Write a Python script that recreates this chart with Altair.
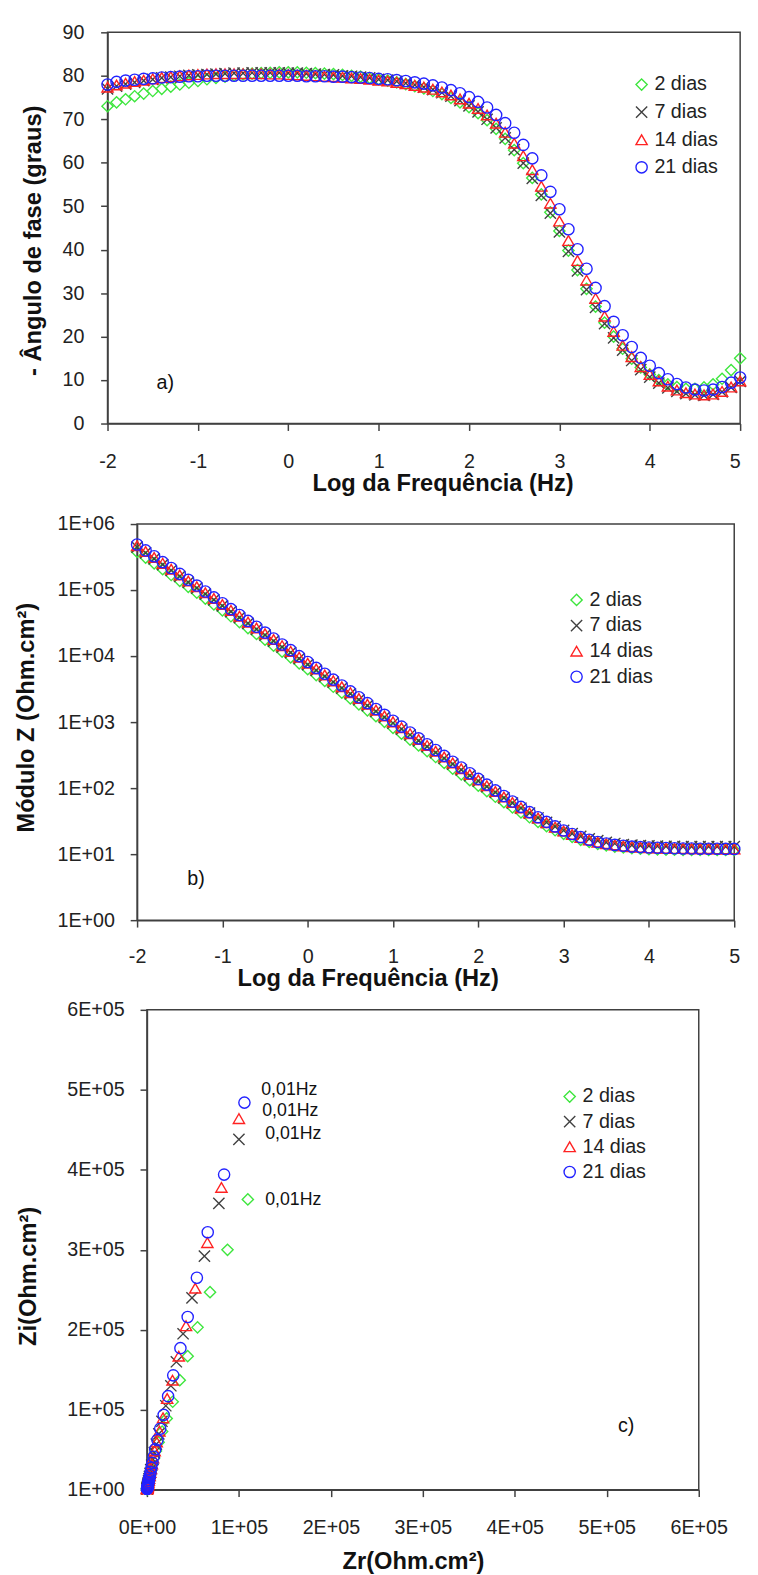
import altair as alt
import pandas as pd

FONT = "Liberation Sans"
DC = "#404040"

series = ["2 dias", "7 dias", "14 dias", "21 dias"]
colors = ["#3ee63e", "#404040", "#ff2222", "#2222ff"]
shapes = ["diamond", "M-1,-1L1,1M-1,1L1,-1", "triangle-up", "circle"]

log_freq = [
    -2.0, -1.9, -1.8, -1.7, -1.6, -1.5, -1.4, -1.3, -1.2, -1.1,
    -1.0, -0.9, -0.8, -0.7, -0.6, -0.5, -0.4, -0.3, -0.2, -0.1,
    0.0, 0.1, 0.2, 0.3, 0.4, 0.5, 0.6, 0.7, 0.8, 0.9,
    1.0, 1.1, 1.2, 1.3, 1.4, 1.5, 1.6, 1.7, 1.8, 1.9,
    2.0, 2.1, 2.2, 2.3, 2.4, 2.5, 2.6, 2.7, 2.8, 2.9,
    3.0, 3.1, 3.2, 3.3, 3.4, 3.5, 3.6, 3.7, 3.8, 3.9,
    4.0, 4.1, 4.2, 4.3, 4.4, 4.5, 4.6, 4.7, 4.8, 4.9, 5.0,
]

# ---- a) phase angle (degrees) ----
phase_2 = [
    73.0, 73.9, 74.6, 75.3, 75.9, 76.5, 77.0, 77.5, 78.0, 78.4,
    78.8, 79.2, 79.5, 79.8, 80.1, 80.3, 80.5, 80.6, 80.7, 80.8,
    80.8, 80.8, 80.7, 80.6, 80.5, 80.4, 80.2, 80.0, 79.8, 79.5,
    79.2, 78.9, 78.5, 78.1, 77.6, 77.1, 76.5, 75.8, 74.9, 73.9,
    72.8, 71.4, 69.8, 67.8, 65.5, 62.9, 59.9, 56.5, 52.7, 48.6,
    44.3, 39.8, 35.3, 31.0, 26.9, 23.2, 20.0, 17.2, 14.9, 12.9,
    11.3, 10.0, 9.0, 8.4, 8.0, 8.0, 8.3, 9.0, 10.3, 12.3, 15.0,
]
phase_7 = [
    77.0, 77.6, 78.1, 78.5, 78.9, 79.2, 79.5, 79.7, 79.9, 80.1,
    80.2, 80.3, 80.4, 80.5, 80.6, 80.6, 80.7, 80.7, 80.7, 80.7,
    80.6, 80.6, 80.5, 80.4, 80.3, 80.2, 80.0, 79.9, 79.7, 79.5,
    79.2, 79.0, 78.7, 78.3, 77.9, 77.4, 76.8, 76.1, 75.3, 74.3,
    73.1, 71.7, 70.0, 68.0, 65.7, 63.0, 59.9, 56.4, 52.5, 48.4,
    44.1, 39.6, 35.1, 30.8, 26.7, 23.0, 19.7, 16.9, 14.5, 12.4,
    10.7, 9.3, 8.2, 7.4, 6.9, 6.6, 6.5, 6.7, 7.3, 8.3, 9.7,
]
phase_14 = [
    77.4, 77.9, 78.3, 78.7, 79.0, 79.3, 79.6, 79.8, 80.0, 80.2,
    80.3, 80.4, 80.5, 80.5, 80.5, 80.5, 80.5, 80.5, 80.4, 80.4,
    80.3, 80.2, 80.1, 80.0, 79.9, 79.8, 79.7, 79.5, 79.4, 79.2,
    79.0, 78.8, 78.5, 78.2, 77.8, 77.4, 76.9, 76.3, 75.6, 74.7,
    73.7, 72.5, 71.0, 69.1, 67.0, 64.5, 61.6, 58.4, 54.6, 50.7,
    46.6, 42.1, 37.5, 33.0, 28.8, 24.7, 21.2, 18.0, 15.4, 13.1,
    11.3, 9.8, 8.6, 7.7, 7.1, 6.8, 6.6, 6.8, 7.4, 8.4, 9.8,
]
phase_21 = [
    78.0, 78.6, 78.9, 79.1, 79.3, 79.4, 79.6, 79.7, 79.8, 79.9,
    79.9, 80.0, 80.0, 80.0, 80.0, 80.0, 80.0, 80.0, 80.0, 80.0,
    80.0, 80.0, 79.9, 79.9, 79.9, 79.8, 79.8, 79.7, 79.6, 79.5,
    79.3, 79.2, 79.0, 78.8, 78.5, 78.2, 77.8, 77.3, 76.7, 76.0,
    75.1, 74.0, 72.7, 71.0, 69.1, 66.9, 64.1, 61.0, 57.1, 53.3,
    49.3, 44.7, 40.1, 35.6, 31.2, 27.0, 23.4, 20.3, 17.6, 15.1,
    13.3, 11.6, 10.2, 9.1, 8.3, 7.8, 7.6, 7.8, 8.4, 9.4, 10.6,
]

# ---- b) impedance modulus (Ohm.cm2) ----
modz_2 = [
    380000, 311000, 254000, 207000, 169000, 138000, 112000, 91300, 74300, 60500,
    49300, 40100, 32700, 26600, 21700, 17700, 14400, 11700, 9590, 7780,
    6340, 5160, 4210, 3430, 2790, 2280, 1860, 1510, 1230, 1010,
    819, 667, 544, 443, 362, 296, 241, 197, 161, 132,
    109, 89.8, 74.0, 61.3, 51.1, 42.8, 36.2, 30.8, 26.5, 23.0,
    20.3, 18.2, 16.5, 15.3, 14.3, 13.6, 13.0, 12.6, 12.3, 12.1,
    11.9, 11.8, 11.7, 11.7, 11.6, 11.6, 11.6, 11.6, 11.6, 11.6, 11.6,
]
modz_7 = [
    448000, 365000, 297000, 242000, 198000, 161000, 131000, 107000, 87000, 70900,
    57700, 47000, 38300, 31200, 25400, 20800, 16900, 13700, 11300, 9130,
    7440, 6060, 4940, 4030, 3280, 2670, 2180, 1780, 1450, 1180,
    961, 783, 638, 520, 424, 346, 283, 231, 189, 155,
    128, 105, 86.3, 71.4, 59.3, 49.6, 41.7, 35.3, 30.2, 26.2,
    23.0, 20.5, 18.6, 17.1, 16.0, 15.1, 14.5, 14.0, 13.7, 13.5,
    13.3, 13.2, 13.1, 13.1, 13.0, 13.0, 13.0, 13.0, 13.0, 13.0, 13.0,
]
modz_14 = [
    470000, 383000, 312000, 254000, 207000, 169000, 137000, 112000, 91300, 74400,
    60600, 49300, 40200, 32700, 26700, 21800, 17800, 14400, 11800, 9580,
    7800, 6360, 5180, 4220, 3440, 2800, 2280, 1860, 1520, 1240,
    1010, 821, 669, 545, 444, 363, 296, 241, 197, 161,
    133, 109, 89.0, 73.3, 60.6, 50.3, 42.0, 35.3, 30.0, 25.7,
    22.4, 19.9, 17.9, 16.4, 15.2, 14.4, 13.8, 13.3, 13.0, 12.7,
    12.5, 12.4, 12.3, 12.2, 12.2, 12.1, 12.1, 12.1, 12.0, 12.0, 12.0,
]
modz_21 = [
    490000, 399000, 325000, 265000, 216000, 176000, 143000, 117000, 95100, 77500,
    63100, 51400, 41900, 34100, 27800, 22700, 18500, 15000, 12300, 9980,
    8130, 6620, 5400, 4400, 3580, 2920, 2380, 1940, 1580, 1290,
    1050, 855, 697, 568, 463, 378, 308, 251, 205, 168,
    138, 113, 92.5, 76.1, 62.8, 52.0, 43.3, 36.3, 30.8, 26.3,
    22.8, 20.2, 18.1, 16.5, 15.3, 14.5, 13.8, 13.4, 13.0, 12.8,
    12.6, 12.5, 12.4, 12.3, 12.2, 12.2, 12.1, 12.1, 12.1, 12.0, 12.0,
]

# ---- c) Nyquist (Ohm.cm2), 0.01 Hz .. 10 Hz ----
zr_2 = [
    109700, 87600, 68600, 55000, 44300, 35700, 28000, 21500, 16500, 12700,
    9800, 7600, 5960, 4710, 3730, 2980, 2380, 1910, 1550, 1250,
    1020, 830, 680, 560, 460, 380, 320, 260, 220, 190, 160,
]
zi_2 = [
    363000, 300000, 247000, 203000, 167000, 137000, 110000, 89100, 72700, 59300,
    48400, 39400, 32200, 26200, 21400, 17400, 14200, 11500, 9460, 7680,
    6260, 5090, 4150, 3380, 2750, 2250, 1830, 1490, 1210, 990, 805,
]
zr_7 = [
    100000, 78200, 62500, 49000, 39300, 32000, 26000, 20500, 16300, 12900,
    10200, 8100, 6500, 5200, 4150, 3400, 2730, 2210, 1830, 1480,
    1220, 990, 820, 670, 550, 450, 380, 310, 260, 220, 180,
]
zi_7 = [
    438000, 358000, 292000, 240000, 195000, 160000, 130000, 105000, 85600, 69800,
    56900, 46300, 37800, 30800, 25100, 20500, 16700, 13500, 11200, 9010,
    7340, 5980, 4870, 3970, 3230, 2630, 2150, 1750, 1430, 1160, 945,
]
zr_14 = [
    100000, 81000, 65700, 52500, 42500, 34600, 27800, 22000, 17500, 13500,
    10600, 8400, 6700, 5400, 4410, 3600, 2940, 2380, 1970, 1600,
    1310, 1080, 890, 730, 600, 490, 410, 340, 280, 230, 190,
]
zi_14 = [
    464000, 378000, 309000, 252000, 205000, 167000, 137000, 114000, 89900, 73300,
    59700, 48600, 39600, 32300, 26300, 21500, 17600, 14200, 11600, 9450,
    7690, 6270, 5100, 4160, 3390, 2760, 2240, 1830, 1490, 1220, 990,
]
zr_21 = [
    106000, 83900, 66100, 54300, 44300, 36400, 28600, 23000, 18200, 14400,
    11400, 9000, 7280, 5920, 4830, 3940, 3210, 2600, 2140, 1730,
    1410, 1150, 940, 770, 630, 510, 420, 350, 290, 240, 195,
]
zi_21 = [
    484000, 394000, 322000, 265000, 216000, 177000, 143000, 117000, 93600, 76300,
    62100, 50600, 41300, 33600, 27400, 22400, 18200, 14800, 12100, 9830,
    8010, 6520, 5320, 4330, 3520, 2870, 2340, 1910, 1550, 1270, 1030,
]

# annotations
ann_a = pd.DataFrame({"logf": [-1.36], "val": [9.3], "txt": ["a)"]})
ann_b = pd.DataFrame({"logf": [-1.31], "val": [4.2], "txt": ["b)"]})
ann_c = pd.DataFrame({"zr": [521000], "zi": [79000], "txt": ["c)"]})
hz_label = ["0,01Hz", "0,01Hz", "0,01Hz", "0,01Hz"]
hz_zr = [124300, 125400, 128600, 128600]
hz_zi = [500000, 473000, 445000, 362000]

log_ticks = [-2, -1, 0, 1, 2, 3, 4, 5]
phase_ticks = [0, 10, 20, 30, 40, 50, 60, 70, 80, 90]
modz_ticks = [1, 10, 100, 1000, 10000, 100000, 1000000]
nyq_ticks = [0, 100000, 200000, 300000, 400000, 500000, 600000]


def long_df(xname, yname, xs_list, ys_list):
    rows = []
    for s, xs, ys in zip(series, xs_list, ys_list):
        assert len(xs) == len(ys)
        for x, y in zip(xs, ys):
            rows.append({xname: x, yname: y, "serie": s})
    return pd.DataFrame(rows)


df_a = long_df("logf", "val", [log_freq] * 4, [phase_2, phase_7, phase_14, phase_21])
df_b = long_df("logf", "val", [log_freq] * 4, [modz_2, modz_7, modz_14, modz_21])
df_c = long_df("zr", "zi", [zr_2, zr_7, zr_14, zr_21], [zi_2, zi_7, zi_14, zi_21])
df_hz = pd.DataFrame({"zr": hz_zr, "zi": hz_zi, "txt": hz_label})


def axis(values, expr, lp, tp, tx=None, ty=None, align=None):
    kw = dict(values=values, labelExpr=expr, grid=False, tickSize=7, tickWidth=1.5,
              tickColor=DC, domainColor=DC, domainWidth=1.5, labelFont=FONT,
              labelFontSize=20, labelColor="#222", labelPadding=lp, labelFlush=False,
              labelOverlap=False, titleFont=FONT, titleFontSize=24,
              titleFontWeight="bold", titleColor="#111", titlePadding=tp)
    if tx is not None:
        kw["titleX"] = tx
    if ty is not None:
        kw["titleY"] = ty
    if align is not None:
        kw["labelAlign"] = align
    return alt.Axis(**kw)


def legend(lx, ly, rp):
    return alt.Legend(title=None, orient="none", legendX=lx, legendY=ly,
                      direction="vertical", labelFont=FONT, labelFontSize=20,
                      labelColor="#222", labelOffset=3, rowPadding=rp, padding=0,
                      symbolSize=130, symbolStrokeWidth=1.4)


def enc_series(leg):
    return dict(
        color=alt.Color("serie:N", scale=alt.Scale(domain=series, range=colors), legend=leg),
        shape=alt.Shape("serie:N", scale=alt.Scale(domain=series, range=shapes), legend=leg),
    )


def pts(df, x, y, leg):
    return alt.Chart(df).mark_point(filled=False, size=130, strokeWidth=1.4, opacity=1).encode(
        x=x, y=y, **enc_series(leg))


def txt(df, xf, yf, size, align="center"):
    return alt.Chart(df).mark_text(font=FONT, fontSize=size, color="#111", align=align,
                                   baseline="middle").encode(x=xf, y=yf, text="txt:N")


hyph = "'' + datum.value"
last_right = {"condition": {"test": "datum.value == 5", "value": "right"}, "value": "center"}

# ---- panel a ----
xa = alt.X("logf:Q", scale=alt.Scale(domain=[-2, 5], nice=False, zero=False),
           axis=axis(log_ticks, hyph, 21.5, 0, tx=340, align=last_right),
           title="Log da Frequência (Hz)")
ya = alt.Y("val:Q", scale=alt.Scale(domain=[0, 90], nice=False),
           axis=axis(phase_ticks, hyph, 17, 17, ty=211), title="- Ângulo de fase (graus)")
panel_a = alt.layer(
    pts(df_a, xa, ya, legend(532, 43, 8)),
    txt(ann_a, "logf:Q", "val:Q", 20),
).properties(width=642, height=397)

# ---- panel b ----
xb = alt.X("logf:Q", scale=alt.Scale(domain=[-2, 5], nice=False, zero=False),
           axis=axis(log_ticks, hyph, 20, 0, tx=234), title="Log da Frequência (Hz)")
yb = alt.Y("val:Q", scale=alt.Scale(type="log", domain=[1, 1000000], nice=False),
           axis=axis(modz_ticks, "'1E+0' + round(log(datum.value) / LN10)", 16, 18.6, ty=196),
           title="Módulo Z (Ohm.cm²)")
panel_b = alt.layer(
    pts(df_b, xb, yb, legend(436, 67, 6)),
    txt(ann_b, "logf:Q", "val:Q", 20),
).properties(width=606, height=402)

# ---- panel c ----
xc = alt.X("zr:Q", scale=alt.Scale(domain=[0, 600000], nice=False),
           axis=axis(nyq_ticks, "datum.value == 0 ? '0E+00' : round(datum.value / 100000) + 'E+05'",
                     21.5, 12.5, tx=270), title="Zr(Ohm.cm²)")
yc = alt.Y("zi:Q", scale=alt.Scale(domain=[0, 600000], nice=False),
           axis=axis(nyq_ticks, "datum.value == 0 ? '1E+00' : round(datum.value / 100000) + 'E+05'",
                     16, 26.6, ty=270), title="Zi(Ohm.cm²)")
panel_c = alt.layer(
    pts(df_c, xc, yc, legend(419, 78, 5.5)),
    txt(ann_c, "zr:Q", "zi:Q", 20),
    txt(df_hz, "zr:Q", "zi:Q", 18, align="left"),
).properties(width=560, height=487)


def spacer():
    return alt.Chart(pd.DataFrame({"v": [0]})).mark_point(size=0, opacity=0).encode(
        x=alt.value(0), y=alt.value(0)
    ).properties(width=1, height=1, view=alt.ViewBackground(stroke="transparent"))


def indep(ch):
    return ch.resolve_scale(x="independent", y="independent",
                            color="independent", shape="independent")


row_a = indep(alt.hconcat(spacer(), panel_a, spacing=10))
row_b = indep(alt.hconcat(spacer(), panel_b, spacing=3))
row_c = indep(alt.hconcat(spacer(), panel_c, spacing=5))
top = indep(alt.vconcat(row_a, row_b, spacing=17))
chart = indep(alt.vconcat(top, row_c, spacing=8)).properties(
    padding={"left": 0, "top": 2, "right": 0, "bottom": 0}
).configure_view(stroke=DC, strokeWidth=1.5)

chart.save("out.html", embed_options={"renderer": "svg", "actions": False})
